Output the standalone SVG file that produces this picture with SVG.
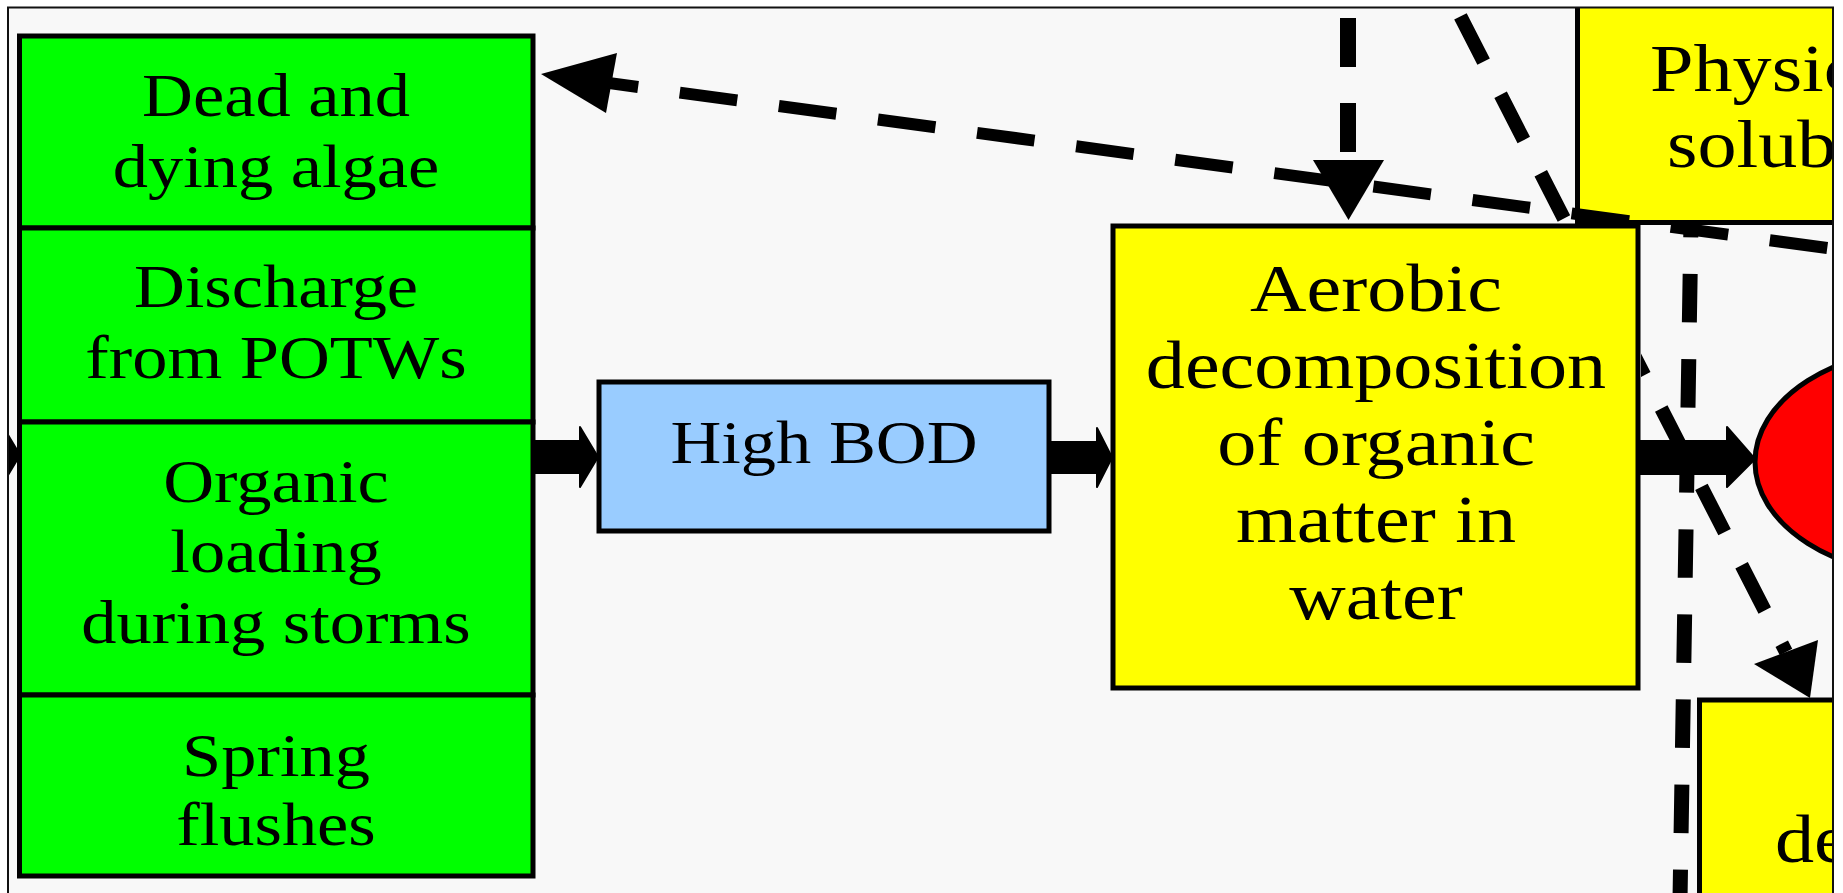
<svg xmlns="http://www.w3.org/2000/svg" width="1843" height="893" viewBox="0 0 1843 893">
  <defs>
    <clipPath id="frameClip">
      <rect x="8" y="8" width="1825" height="900"/>
    </clipPath>
    <!-- keeps the back diagonal from showing through the aerobic box -->
    <clipPath id="behindAerobic">
      <path clip-rule="evenodd" d="M0 0H1843V893H0Z M1110 223H1641V691H1110Z"/>
    </clipPath>
    <style>
      .box { stroke: #000; stroke-width: 5; }
      .green { fill: #00ff00; }
      .blue { fill: #99ccff; }
      .yellow { fill: #ffff00; }
      .red { fill: #ff0000; }
      .label { font-family: "Liberation Serif", "Times New Roman", serif; fill: #000; text-anchor: middle; }
      .start { text-anchor: start; }
      .s61 { font-size: 61px; }
      .s68 { font-size: 68px; }
      .dash { fill: none; stroke: #000; stroke-linecap: butt; }
      .head { fill: #000; }
      .block { fill: #000; stroke: #000; stroke-width: 2; stroke-linejoin: round; }
    </style>
  </defs>

  <rect x="0" y="0" width="1843" height="893" fill="#ffffff"/>
  <rect x="8" y="7.5" width="1825" height="900" fill="#f8f8f8"/>

  <g clip-path="url(#frameClip)">
    <!-- source stack -->
    <g id="node-dead-algae">
      <rect class="box green" x="19.5" y="36" width="513.5" height="192"/>
      <g class="label s61" transform="translate(276 0) scale(1.155 1)">
        <text x="0" y="116">Dead and</text>
        <text x="0" y="187">dying algae</text>
      </g>
    </g>
    <g id="node-potw">
      <rect class="box green" x="19.5" y="228" width="513.5" height="194"/>
      <g class="label s61" transform="translate(276 0) scale(1.155 1)">
        <text x="0" y="307">Discharge</text>
        <text x="0" y="378">from POTWs</text>
      </g>
    </g>
    <g id="node-storms">
      <rect class="box green" x="19.5" y="422" width="513.5" height="273"/>
      <g class="label s61" transform="translate(276 0) scale(1.155 1)">
        <text x="0" y="502">Organic</text>
        <text x="0" y="572">loading</text>
        <text x="0" y="643">during storms</text>
      </g>
    </g>
    <g id="node-spring">
      <rect class="box green" x="19.5" y="695" width="513.5" height="181"/>
      <g class="label s61" transform="translate(276 0) scale(1.155 1)">
        <text x="0" y="776">Spring</text>
        <text x="0" y="845">flushes</text>
      </g>
    </g>

    <g id="node-high-bod">
      <rect class="box blue" x="599" y="382" width="450" height="149"/>
      <g class="label s61" transform="translate(824 0) scale(1.155 1)">
        <text x="0" y="463">High BOD</text>
      </g>
    </g>

    <g id="node-aerobic">
      <rect class="box yellow" x="1113" y="226" width="525" height="462"/>
      <g class="label s68" transform="translate(1376 0) scale(1.15 1)">
        <text x="0" y="311.5">Aerobic</text>
        <text x="0" y="388">decomposition</text>
        <text x="0" y="465">of organic</text>
        <text x="0" y="542">matter in</text>
        <text x="0" y="619">water</text>
      </g>
    </g>

    <g id="node-physical">
      <rect class="box yellow" x="1577.5" y="-20" width="300" height="242.5"/>
      <text class="label start s68" x="0" y="91" transform="translate(1650 0) scale(1.15 1)">Physic</text>
      <text class="label start s68" x="0" y="167" transform="translate(1667 0) scale(1.15 1)">solub</text>
    </g>

    <g id="node-oxygen">
      <ellipse class="box red" cx="1935" cy="462" rx="180" ry="115"/>
    </g>

    <g id="node-de">
      <rect class="box yellow" x="1699.5" y="700" width="200" height="250"/>
      <text class="label start s68" x="0" y="862" transform="translate(1775 0) scale(1.15 1)">de</text>
    </g>

    <g id="connectors">
      <!-- diagonal from the top towards the lower right box (passes behind the aerobic box) -->
      <path class="dash" clip-path="url(#behindAerobic)" d="M1441.8 -20 L1786 652" stroke-width="14" stroke-dasharray="50.8 37.3" stroke-dashoffset="47.2"/>
      <polygon class="head" points="1754,664 1818,640 1810,698"/>

      <!-- vertical line below the physical box -->
      <path class="dash" d="M1691 222 L1680 900" stroke-width="15" stroke-dasharray="48.5 36.6" stroke-dashoffset="33.1"/>

      <!-- main flow block arrows -->
      <path class="block" d="M-60 439 H2 V425 L20 455 L2 485 V471 H-60 Z"/>
      <path class="block" d="M533 441 H580 V427 L598 457 L580 487 V473 H533 Z"/>
      <path class="block" d="M1049 442 H1097 V428 L1112 457.5 L1097 487 V473 H1049 Z"/>
      <path class="block" d="M1638 441 H1727 V427 L1755 459 L1727 487 V474 H1638 Z"/>

      <!-- long feedback to the algae box -->
      <path class="dash" d="M541 73.8 L1900 257.9" stroke-width="12" stroke-dasharray="58 42" stroke-dashoffset="60"/>
      <polygon class="head" points="541,74 617,53 606,113"/>

      <!-- vertical input to the aerobic box -->
      <path class="dash" d="M1348 18 V160" stroke-width="16" stroke-dasharray="49 36"/>
      <polygon class="head" points="1313,160 1384,160 1348.5,220"/>
    </g>
  </g>

  <rect x="8" y="7.5" width="1825" height="900" fill="none" stroke="#111" stroke-width="2"/>
</svg>
